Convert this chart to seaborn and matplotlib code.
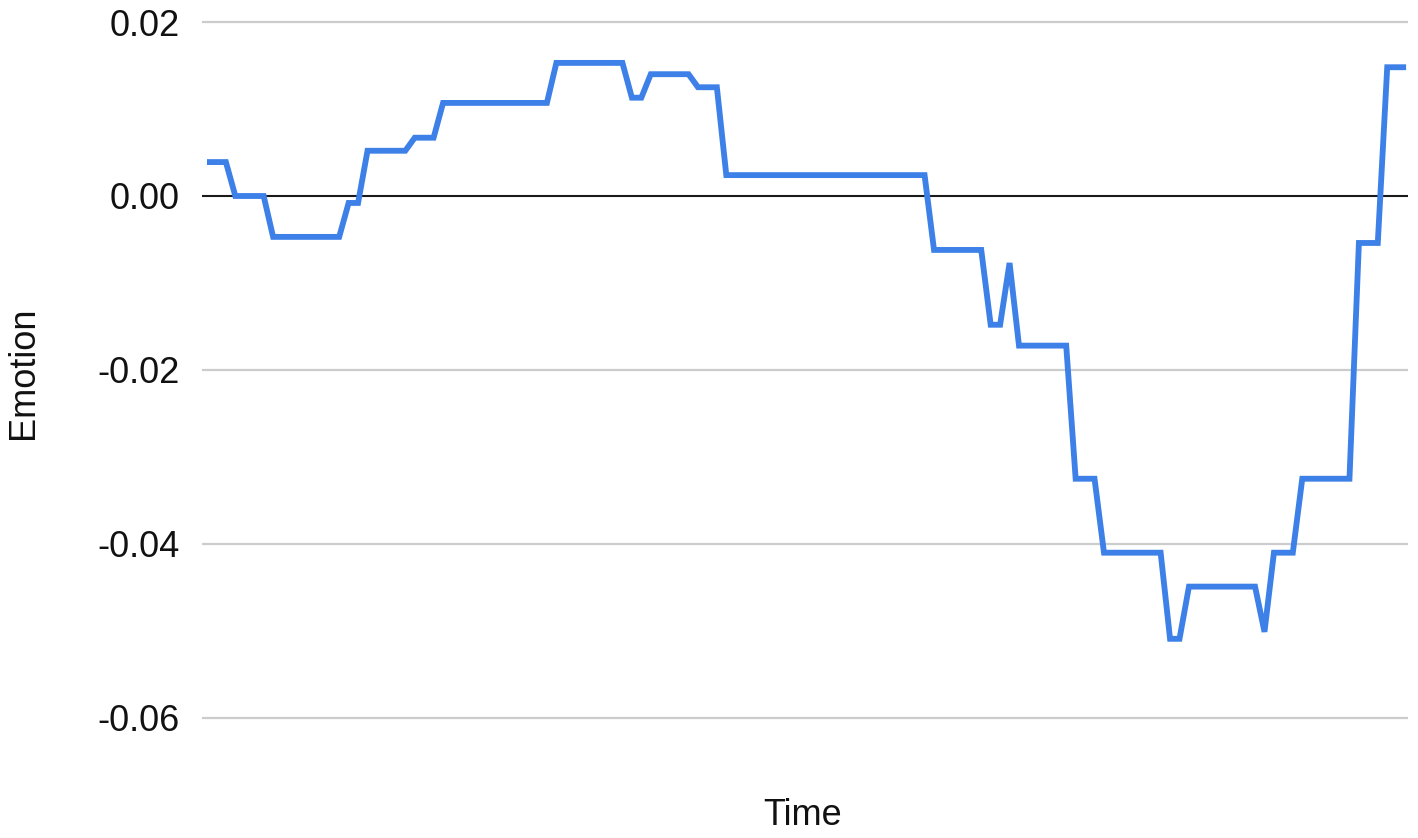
import matplotlib
matplotlib.use("Agg")
import matplotlib.pyplot as plt
import seaborn as sns
import pandas as pd

# Data (time step index, emotion value)
time_idx = [0, 2, 3, 6, 7, 14, 15, 16, 17, 21, 22, 24, 25, 36, 37, 44, 45, 46,
            47, 51, 52, 54, 55, 76, 77, 82, 83, 84, 85, 86, 91, 92, 94, 95,
            101, 102, 103, 104, 111, 112, 113, 115, 116, 121, 122, 124, 125, 127]
emotion = [0.0039, 0.0039, 0.0, 0.0, -0.0047, -0.0047, -0.0008, -0.0008,
           0.0052, 0.0052, 0.0067, 0.0067, 0.0107, 0.0107, 0.0153, 0.0153,
           0.0113, 0.0113, 0.0140, 0.0140, 0.0125, 0.0125, 0.0024, 0.0024,
           -0.0062, -0.0062, -0.0148, -0.0148, -0.0077, -0.0172, -0.0172,
           -0.0325, -0.0325, -0.0410, -0.0410, -0.0509, -0.0509, -0.0449,
           -0.0449, -0.0501, -0.0410, -0.0410, -0.0325, -0.0325, -0.0054,
           -0.0054, 0.0148, 0.0148]
y_ticks = [0.02, 0.00, -0.02, -0.04, -0.06]
y_tick_labels = ["0.02", "0.00", "-0.02", "-0.04", "-0.06"]

df = pd.DataFrame({"Time": time_idx, "Emotion": emotion})

sns.set_theme(style="white")
plt.rcParams["font.family"] = ["Liberation Sans", "DejaVu Sans"]
plt.rcParams["axes.unicode_minus"] = False

fig = plt.figure(figsize=(14.18, 8.38), dpi=100)
ax = fig.add_axes([202 / 1418, 1 - 770 / 838, (1408 - 202) / 1418, (770 - 14) / 838])

for yv in y_ticks:
    if yv != 0:
        ax.axhline(yv, color="#cccccc", lw=1.6, zorder=0)
ax.axhline(0, color="#1a1a1a", lw=1.5, zorder=1)

sns.lineplot(data=df, x="Time", y="Emotion", ax=ax, color="#3d80e8",
             linewidth=4.2, sort=False, zorder=3)
for ln in ax.get_lines():
    ln.set_solid_joinstyle("miter")
    ln.set_solid_capstyle("butt")

ax.set_xlim(-0.53, 127.2)
ax.set_ylim(-0.06598, 0.02092)
ax.set_yticks(y_ticks)
ax.set_yticklabels(y_tick_labels, fontsize=26, color="#111111")
ax.set_xticks([])
ax.tick_params(axis="y", length=0, pad=16)
for s in ax.spines.values():
    s.set_visible(False)

ax.set_xlabel("Time", fontsize=26, color="#111111")
ax.set_ylabel("Emotion", fontsize=26, color="#111111")
ax.xaxis.set_label_coords(0.498, -(815 - 770) / (770 - 14), transform=ax.transAxes)
ax.xaxis.label.set_va("center")
ax.yaxis.set_label_coords(-(202 - 24) / (1408 - 202), (770 - 373) / (770 - 14),
                          transform=ax.transAxes)
ax.yaxis.label.set_va("center")

fig.savefig("out.png", dpi=100, facecolor="white")
